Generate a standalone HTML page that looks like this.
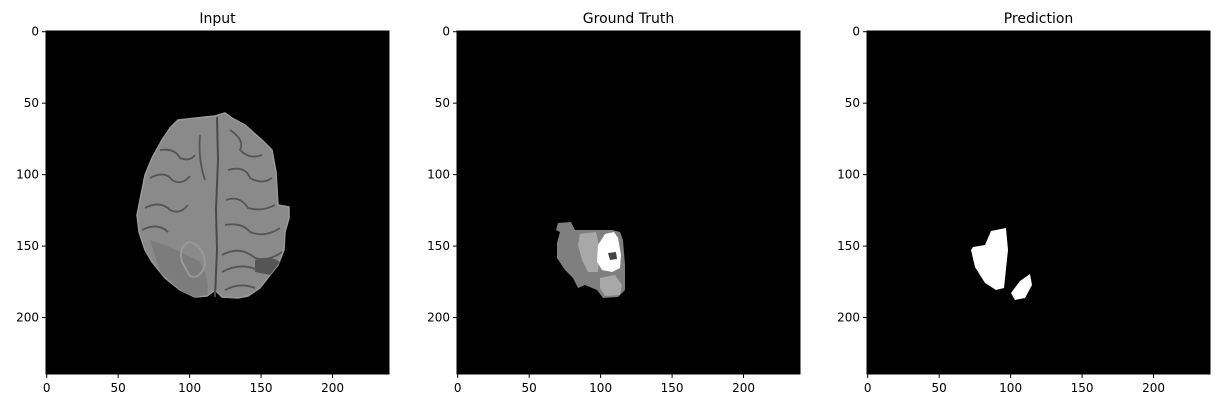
<!DOCTYPE html>
<html><head><meta charset="utf-8"><style>
body{margin:0;background:#fff;}
svg{display:block;font-family:"DejaVu Sans","Liberation Sans",sans-serif;}
</style></head><body>
<svg id="chart" width="1222" height="407" viewBox="0 0 1222 407">
<g id="panels"></g>
<g>
  <polygon fill="#8a8a8a" stroke="#9a9a9a" stroke-width="1.5" points="178,120 205,117 215,116 225,113 232,118 245,125 262,140 272,150 276,172 278,205 289,207 289,218 285,232 284,250 278,265 270,275 260,288 248,296 238,298 222,297 215,290 207,296 195,297 180,290 165,278 152,262 145,250 139,232 137,215 140,200 145,175 152,158 162,140 170,128"/>
  <path d="M150 240 Q180 250 200 262 Q210 280 207 295 L195 297 L180 290 L160 272 Z" fill="#7c7c7c"/>
  <path d="M182 262 Q178 245 190 242 Q204 246 205 265 Q200 280 190 276 Z" fill="none" stroke="#999" stroke-width="2"/>
  <path d="M217 117 L218 160 L216 210 L217 250 L215 297" stroke="#4a4a4a" stroke-width="2" fill="none"/>
  <g stroke="#555" stroke-width="1.8" fill="none">
    <path d="M160 150 Q175 148 180 158 Q190 162 195 155"/>
    <path d="M150 178 Q165 170 172 180 Q182 186 190 176"/>
    <path d="M145 208 Q160 200 170 210 Q180 215 188 205"/>
    <path d="M142 230 Q158 222 168 232"/>
    <path d="M200 135 Q198 160 205 180"/>
    <path d="M230 130 Q245 140 240 150 Q250 160 262 155"/>
    <path d="M228 170 Q245 165 250 178 Q262 185 272 178"/>
    <path d="M226 200 Q240 195 248 208 Q262 212 275 205"/>
    <path d="M225 225 Q242 222 250 232 Q265 238 280 228"/>
    <path d="M222 255 Q240 245 255 258 Q268 262 282 252"/>
    <path d="M222 272 Q240 262 258 270 Q270 268 278 262"/>
    <path d="M225 290 Q240 282 255 288"/>
  </g>
  <path d="M255 260 Q270 255 280 262 L270 275 L255 272 Z" fill="#555"/>
</g>
<g>
  <polygon fill="#7f7f7f" points="558,223 571,222 575,230 600,230 612,230 620,232 623,240 625,265 625,290 618,297 603,298 597,290 585,285 578,288 573,278 565,270 557,258 557,243 560,232 556,230"/>
  <polygon fill="#a8a8a8" points="580,234 596,232 600,250 598,272 588,272 582,260 578,245"/>
  <polygon fill="#a8a8a8" points="600,278 615,275 622,285 620,295 605,296 600,288"/>
  <polygon fill="#fff" points="605,234 614,232 618,238 621,255 620,268 612,272 602,270 597,262 598,245"/>
  <polygon fill="#444" points="608,253 616,252 617,259 610,260"/>
</g>
<g>
  <polygon fill="#fff" points="991,231 1006,228 1008,250 1004,288 996,290 985,283 975,267 971,250 973,247 985,245"/>
  <polygon fill="#fff" points="1030,274 1032,285 1025,298 1015,300 1011,293 1020,281"/>
</g>
</svg>
<script>
const panelTitles = ["Input", "Ground Truth", "Prediction"];
const panelLefts = [46, 457, 867];
const xTicks = [0, 50, 100, 150, 200];
const yTicks = [0, 50, 100, 150, 200];
const imgSize = 240;
const ns = "http://www.w3.org/2000/svg";
const top0 = 31, side = 343;
const sc = side / imgSize;
const svg = document.getElementById('chart');
const g = document.getElementById('panels');
function mk(tag, attrs){const e=document.createElementNS(ns,tag);for(const k in attrs)e.setAttribute(k,attrs[k]);return e;}
panelTitles.forEach((t, i) => {
  const L = panelLefts[i];
  const px = v => L + (v + 0.5) * sc;
  const py = v => top0 + (v + 0.5) * sc;
  const bg = mk('rect',{x:L,y:top0,width:side,height:side,fill:'#000'});
  
  
  g.appendChild(bg);
  const fr = mk('rect',{x:L,y:top0,width:side,height:side,fill:'none',stroke:'#000','stroke-width':1});
  
  
  svg.appendChild(fr);
  const title = mk('text',{x:L+side/2,y:top0-8,'text-anchor':'middle','font-size':14,fill:'#000'});
  title.textContent = t;
  
  
  svg.appendChild(title);
  xTicks.forEach(v => {
    const x = px(v);
    const tk = mk('line',{x1:x,x2:x,y1:top0+side,y2:top0+side+4,stroke:'#000'});
    
    
    svg.appendChild(tk);
    const lb = mk('text',{x:x,y:top0+side+18,'text-anchor':'middle','font-size':12,fill:'#000'});
    lb.textContent = v;
    
    
    svg.appendChild(lb);
  });
  yTicks.forEach(v => {
    const y = py(v);
    const tk = mk('line',{x1:L-4,x2:L,y1:y,y2:y,stroke:'#000'});
    
    
    svg.appendChild(tk);
    const lb = mk('text',{x:L-7,y:y+4,'text-anchor':'end','font-size':12,fill:'#000'});
    lb.textContent = v;
    
    
    svg.appendChild(lb);
  });
});
</script>
</body></html>
